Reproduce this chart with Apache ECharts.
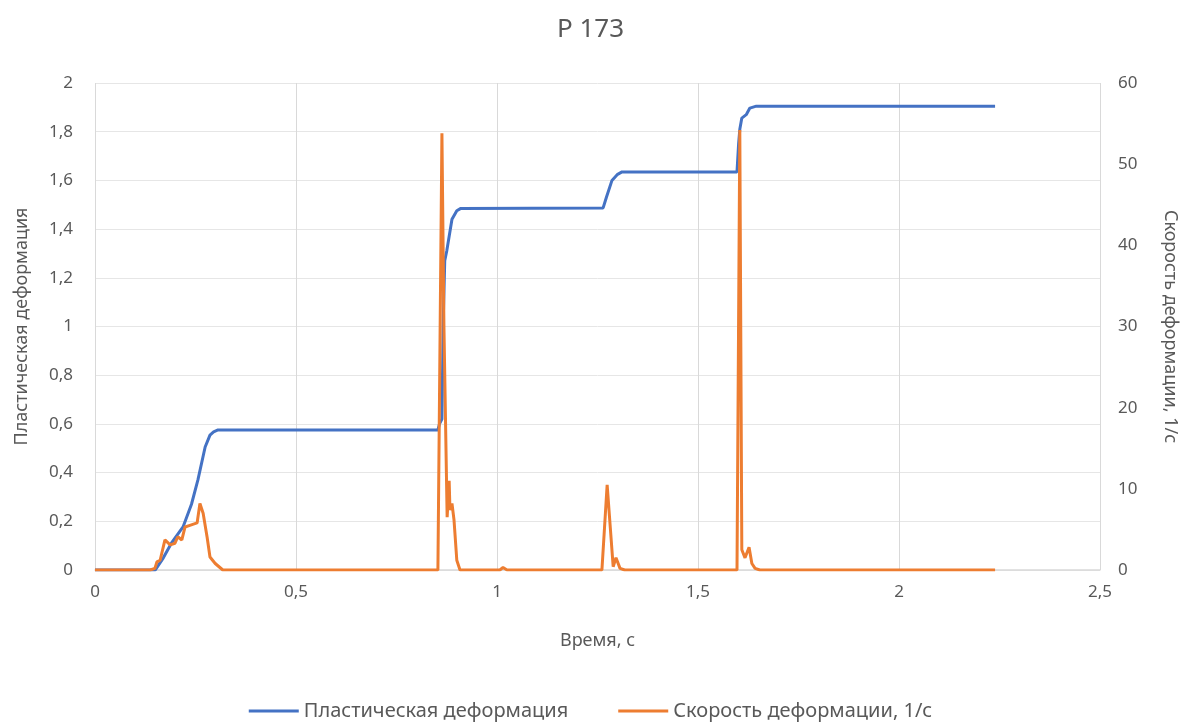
<!DOCTYPE html>
<html><head><meta charset="utf-8">
<script src="https://cdn.jsdelivr.net/npm/echarts@6/dist/echarts.min.js"></script>
<style>html,body{margin:0;padding:0;background:#fff}#c{width:1181px;height:723px}</style>
</head><body><div id="c"></div>
<script>
const title = 'P 173';
const xName = 'Время, с';
const leftName = 'Пластическая деформация';
const rightName = 'Скорость деформации, 1/с';
const seriesNames = ['Пластическая деформация', 'Скорость деформации, 1/с'];

const plasticT = [0,0.15,0.154,0.17,0.19,0.219,0.24,0.256,0.274,0.286,0.295,0.306,0.853,0.857,0.863,0.866,0.870,0.875,0.888,0.900,0.910,1.264,1.272,1.286,1.300,1.311,1.597,1.601,1.604,1.609,1.620,1.629,1.645,2.239];
const plasticV = [0,0,0.005,0.05,0.11,0.177,0.27,0.37,0.505,0.554,0.567,0.575,0.575,0.6,0.62,1.0,1.27,1.31,1.44,1.475,1.485,1.487,1.53,1.60,1.625,1.635,1.635,1.75,1.81,1.856,1.87,1.897,1.905,1.905];

const rateT = [0,0.137,0.149,0.154,0.162,0.174,0.187,0.199,0.206,0.216,0.224,0.236,0.254,0.261,0.269,0.279,0.286,0.299,0.318,0.853,0.863,0.868,0.876,0.881,0.883,0.888,0.893,0.900,0.908,1.007,1.015,1.025,1.261,1.274,1.289,1.296,1.306,1.318,1.597,1.604,1.609,1.617,1.627,1.634,1.642,1.654,2.239];
const rateV = [0,0,0.2,1.0,1.2,3.7,3.1,3.3,4.1,3.7,5.3,5.5,5.8,8.2,7.0,4.0,1.6,0.8,0,0,53.8,30,6.5,11,7.4,8.2,6.2,1.2,0,0,0.3,0,0,10.5,0.4,1.5,0.2,0,0,54.2,2.5,1.5,2.8,0.8,0.2,0,0];

const zip = (a,b) => a.map((t,i)=>[t,b[i]]);
const fmt = v => String(v).replace('.', ',');
const font = '"Noto Sans", "Open Sans", sans-serif';
const grey = '#595959';

const chart = echarts.init(document.getElementById('c'));
chart.setOption({
  animation:false,
  textStyle:{fontFamily:font},
  title:{text:title,left:'center',top:12,textStyle:{fontSize:26,fontWeight:'normal',color:grey,fontFamily:font}},
  grid:{left:95,right:81,top:83,bottom:153,outerBoundsMode:'none',containLabel:false},
  legend:{bottom:-3,itemGap:50,itemWidth:50,itemHeight:3,icon:'rect',
    textStyle:{fontSize:20,color:grey,fontFamily:font},data:seriesNames},
  xAxis:{type:'value',min:0,max:2.5,interval:0.5,name:xName,nameLocation:'middle',nameGap:62,
    nameTextStyle:{fontSize:18,color:grey},
    axisLabel:{formatter:fmt,fontSize:17,color:grey,margin:14},
    axisLine:{show:true,lineStyle:{color:'#d9d9d9',width:1.5}},axisTick:{show:false},
    splitLine:{show:true,lineStyle:{color:'#d9d9d9'}}},
  yAxis:[
    {type:'value',min:0,max:2,interval:0.2,name:leftName,nameLocation:'middle',nameGap:64,
     nameTextStyle:{fontSize:18,color:grey},
     axisLabel:{formatter:v=>fmt(Math.round(v*10)/10),fontSize:17,color:grey,margin:22},
     axisLine:{show:false},axisTick:{show:false},splitLine:{lineStyle:{color:'#e6e6e6'}}},
    {type:'value',min:0,max:60,interval:10,name:rightName,nameLocation:'middle',nameGap:61,nameRotate:-90,
     nameTextStyle:{fontSize:18,color:grey},
     axisLabel:{fontSize:17,color:grey,margin:18},
     axisLine:{show:false},axisTick:{show:false},splitLine:{show:false}}
  ],
  series:[
    {name:seriesNames[0],type:'line',yAxisIndex:0,data:zip(plasticT,plasticV),showSymbol:false,symbol:'none',
     lineStyle:{color:'#4472C4',width:3},itemStyle:{color:'#4472C4'}},
    {name:seriesNames[1],type:'line',yAxisIndex:1,data:zip(rateT,rateV),showSymbol:false,symbol:'none',
     lineStyle:{color:'#ED7D31',width:3},itemStyle:{color:'#ED7D31'}}
  ]
});
</script></body></html>
